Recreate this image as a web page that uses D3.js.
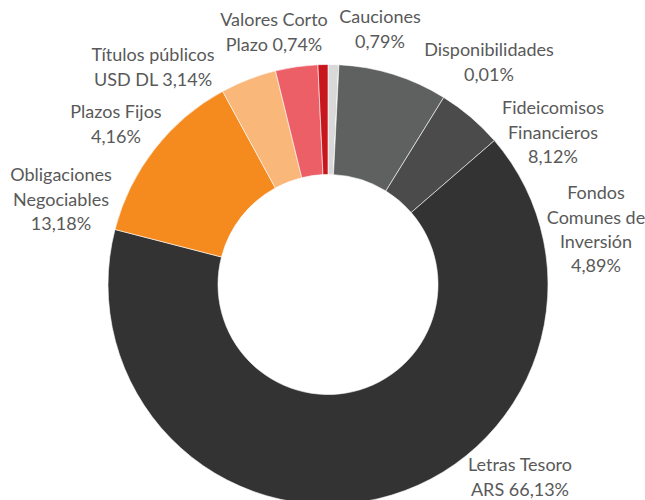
<!DOCTYPE html>
<html>
<head>
<meta charset="utf-8">
<script src="https://cdn.jsdelivr.net/npm/d3@7"></script>
<style>
	body { margin: 0; background: #fff; }
	text { font-family: Lato, "Open Sans", sans-serif; font-size: 18px; fill: #595959; }
</style>
</head>
<body>
<div id="chart"></div>
<script>
// slices, clockwise from 12 o'clock
const categories = [
	'Cauciones',
	'Disponibilidades',
	'Fideicomisos Financieros',
	'Fondos Comunes de Inversión',
	'Letras Tesoro ARS',
	'Obligaciones Negociables',
	'Plazos Fijos',
	'Títulos públicos USD DL',
	'Valores Corto Plazo'
];
const values = [0.79, 0.01, 8.12, 4.89, 66.13, 13.18, 4.16, 3.14, 0.74];
const labelLines = [
	['Cauciones', '0,79%'],
	['Disponibilidades', '0,01%'],
	['Fideicomisos', 'Financieros', '8,12%'],
	['Fondos', 'Comunes de', 'Inversión', '4,89%'],
	['Letras Tesoro', 'ARS 66,13%'],
	['Obligaciones', 'Negociables', '13,18%'],
	['Plazos Fijos', '4,16%'],
	['Títulos públicos', 'USD DL 3,14%'],
	['Valores Corto', 'Plazo 0,74%']
];

const colors = ['#d9d9d9', '#a6a6a6', '#5f6060', '#4b4b4b', '#333333', '#f58a1f', '#f9b77a', '#ec5f67', '#c8161d'];
// label centres (first line), placed like the original data labels
const labelPos = [
	[380, 17], [489, 50], [553, 108], [596, 193], [520, 465],
	[61, 175], [116, 112], [153, 55], [274, 20]
];

const width = 645, height = 500;
const cx = 328, cy = 284.5, outerR = 220, innerR = 110, lineH = 24.3;

let svg = d3.select('#chart').append('svg')
	.attr('width', width)
	.attr('height', height);

let pie = d3.pie().sort(null).value(d => d);
let arc = d3.arc().innerRadius(innerR).outerRadius(outerR);

let color = d3.scaleOrdinal().domain(categories).range(colors);

let g = svg.append('g').attr('transform', `translate(${cx},${cy})`);
g.selectAll('path')
	.data(pie(values))
	.join('path')
	.attr('d', arc)
	.attr('fill', (d, i) => color(categories[i]))
	.attr('stroke', '#fff')
	.attr('stroke-width', 0.6);

let labels = svg.append('g').attr('class', 'labels');
labels.selectAll('text')
	.data(labelLines)
	.join('text')
	.attr('text-anchor', 'middle')
	.attr('x', (d, i) => labelPos[i][0])
	.attr('y', (d, i) => labelPos[i][1])
	.selectAll('tspan')
	.data((d, i) => d.map(t => ({ t, x: labelPos[i][0] })))
	.join('tspan')
	.attr('x', d => d.x)
	.attr('dy', (d, j) => j === 0 ? '0.35em' : lineH)
	.text(d => d.t);
</script>
</body>
</html>
